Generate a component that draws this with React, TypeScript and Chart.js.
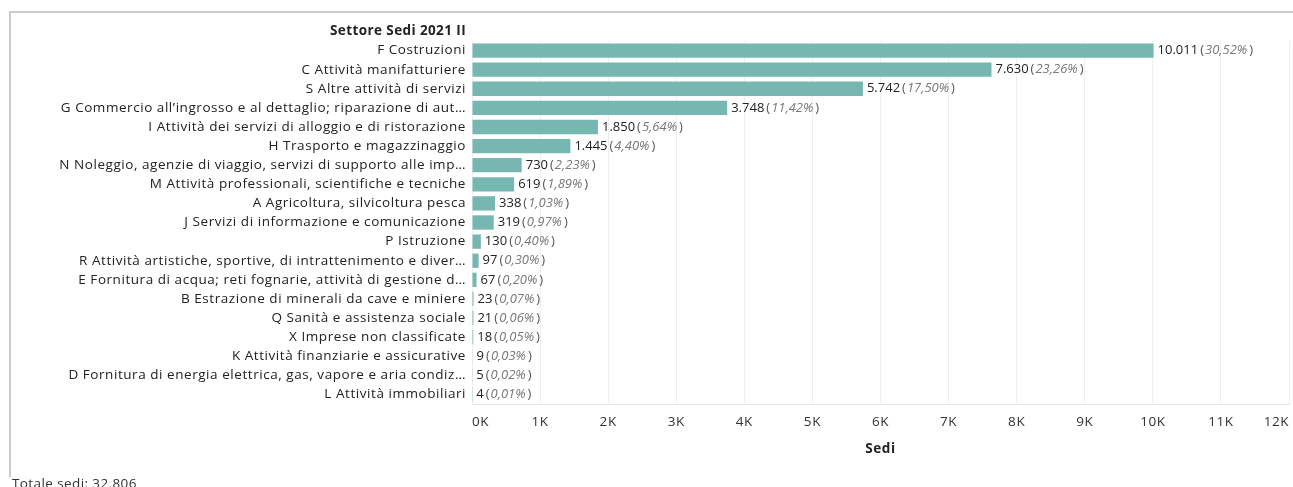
import React, { useEffect, useRef } from "react";
import { Chart, registerables } from "chart.js";

Chart.register(...registerables);

const headerTitle = "Settore Sedi 2021 II";
const axisTitle = "Sedi";
const totalLabel = "Totale sedi: 32.806";

const categories = [
  "F Costruzioni",
  "C Attività manifatturiere",
  "S Altre attività di servizi",
  "G Commercio all’ingrosso e al dettaglio; riparazione di aut…",
  "I Attività dei servizi di alloggio e di ristorazione",
  "H Trasporto e magazzinaggio",
  "N Noleggio, agenzie di viaggio, servizi di supporto alle imp…",
  "M Attività professionali, scientifiche e tecniche",
  "A Agricoltura, silvicoltura pesca",
  "J Servizi di informazione e comunicazione",
  "P Istruzione",
  "R Attività artistiche, sportive, di intrattenimento e diver…",
  "E Fornitura di acqua; reti fognarie, attività di gestione d…",
  "B Estrazione di minerali da cave e miniere",
  "Q Sanità e assistenza sociale",
  "X Imprese non classificate",
  "K Attività finanziarie e assicurative",
  "D Fornitura di energia elettrica, gas, vapore e aria condiz…",
  "L Attività immobiliari",
];

const values = [10011, 7630, 5742, 3748, 1850, 1445, 730, 619, 338, 319, 130, 97, 67, 23, 21, 18, 9, 5, 4];

const percentages = [
  "30,52%", "23,26%", "17,50%", "11,42%", "5,64%", "4,40%", "2,23%", "1,89%", "1,03%", "0,97%",
  "0,40%", "0,30%", "0,20%", "0,07%", "0,06%", "0,05%", "0,03%", "0,02%", "0,01%",
];

const xTickLabels = ["0K", "1K", "2K", "3K", "4K", "5K", "6K", "7K", "8K", "9K", "10K", "11K", "12K"];

const FONT = "'Open Sans', 'Noto Sans', sans-serif";
const FS = 13.5;
const BAR_COLOR = "#76b7b2";

function formatIt(n: number): string {
  return String(n).replace(/\B(?=(\d{3})+(?!\d))/g, ".");
}

const decorPlugin = {
  id: "decor",
  beforeDraw(chart: any) {
    const ctx = chart.ctx;
    ctx.save();
    ctx.fillStyle = "#cccccc";
    ctx.fillRect(9, 11, chart.width - 9, 2);
    ctx.fillRect(9, 11, 2, 466);
    ctx.restore();
    ctx.letterSpacing = "0.55px";
  },
  beforeDatasetsDraw(chart: any) {
    chart.ctx.letterSpacing = "0px";
  },
  afterDraw(chart: any) {
    const ctx = chart.ctx;
    ctx.save();
    ctx.letterSpacing = "0.4px";
    ctx.font = `bold ${FS}px ${FONT}`;
    ctx.fillStyle = "#222";
    ctx.textAlign = "right";
    ctx.textBaseline = "middle";
    ctx.fillText(headerTitle, 466, 31);
    ctx.font = `${FS}px ${FONT}`;
    ctx.textAlign = "left";
    ctx.textBaseline = "alphabetic";
    ctx.fillStyle = "#333";
    ctx.fillText(totalLabel, 12, 488);
    ctx.restore();
    ctx.letterSpacing = "0px";
  },
  afterDatasetsDraw(chart: any) {
    const ctx = chart.ctx;
    const meta = chart.getDatasetMeta(0);
    ctx.save();
    ctx.letterSpacing = "0px";
    ctx.textBaseline = "middle";
    ctx.textAlign = "left";
    meta.data.forEach((el: any, i: number) => {
      let x = el.x + 4;
      const y = el.y;
      ctx.font = `${FS - 0.5}px ${FONT}`;
      ctx.fillStyle = "#222";
      const num = formatIt(values[i]);
      ctx.fillText(num, x, y);
      x += ctx.measureText(num).width + 2;
      ctx.fillStyle = "#555";
      ctx.fillText("(", x, y);
      x += ctx.measureText("(").width + 1;
      ctx.font = `italic ${FS - 0.5}px ${FONT}`;
      ctx.fillStyle = "#777";
      ctx.fillText(percentages[i], x, y);
      x += ctx.measureText(percentages[i]).width + 2;
      ctx.font = `${FS - 0.5}px ${FONT}`;
      ctx.fillStyle = "#555";
      ctx.fillText(")", x, y);
    });
    ctx.restore();
  },
};

export default function App() {
  const ref = useRef<HTMLCanvasElement | null>(null);

  useEffect(() => {
    if (!ref.current) return;
    const chart = new Chart(ref.current, {
      type: "bar",
      data: {
        labels: categories,
        datasets: [
          {
            data: values,
            backgroundColor: BAR_COLOR,
            borderWidth: 0,
            barPercentage: 0.75,
            categoryPercentage: 1,
          },
        ],
      },
      options: {
        indexAxis: "y",
        responsive: false,
        animation: false,
        layout: { padding: { top: 41, right: 4, left: 0, bottom: 0 } },
        plugins: {
          legend: { display: false },
          tooltip: { enabled: false },
          title: { display: false },
        },
        scales: {
          x: {
            min: 0,
            max: 12000,
            afterFit: (s: any) => {
              s.height = 83;
              s.paddingLeft = 0;
              s.paddingRight = 0;
            },
            ticks: {
              stepSize: 1000,
              align: "inner",
              padding: 10,
              color: "#333",
              font: { family: FONT, size: FS },
              callback: (v: any) => xTickLabels[Math.round(Number(v) / 1000)],
            },
            grid: { color: "#efefef", drawTicks: false, lineWidth: 1 },
            border: { display: true, color: "#e6e6e6" },
            title: {
              display: true,
              text: axisTitle,
              color: "#222",
              font: { family: FONT, size: FS, weight: "bold" },
              padding: { top: 0, bottom: 30 },
            },
          },
          y: {
            afterFit: (s: any) => {
              s.width = 472;
            },
            ticks: {
              autoSkip: false,
              padding: 6,
              color: "#222",
              font: { family: FONT, size: FS },
            },
            grid: { display: false, drawTicks: false },
            border: { display: false },
          },
        },
      },
      plugins: [decorPlugin],
    });
    return () => chart.destroy();
  }, []);

  return (
    <div style={{ position: "fixed", left: 0, top: 0, width: 1293, height: 487, background: "#fff" }}>
      <canvas ref={ref} width={1293} height={487} style={{ display: "block" }} />
    </div>
  );
}
